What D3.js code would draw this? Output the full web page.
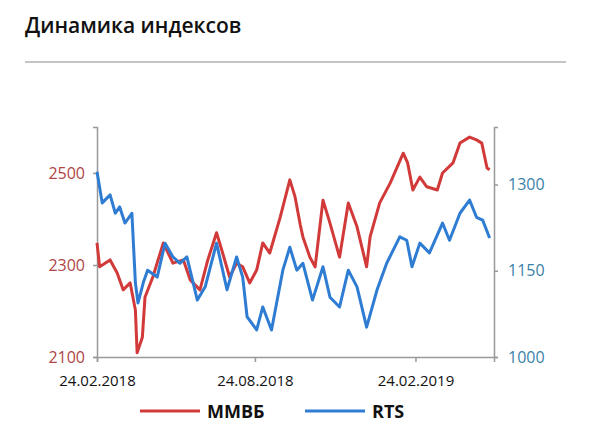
<!DOCTYPE html>
<html><head><meta charset="utf-8">
<script src="https://cdn.jsdelivr.net/npm/d3@7"></script>
<style>body{margin:0;background:#fff}svg{display:block}</style>
</head><body>
<svg id="c" width="600" height="447"></svg>
<script>
const mmvbDates=["2018-02-24","2018-02-27","2018-03-11","2018-03-19","2018-03-26","2018-04-03","2018-04-09","2018-04-11","2018-04-17","2018-04-20","2018-04-29","2018-05-11","2018-05-22","2018-06-03","2018-06-11","2018-06-22","2018-07-01","2018-07-11","2018-07-18","2018-07-26","2018-08-03","2018-08-10","2018-08-18","2018-08-26","2018-09-02","2018-09-10","2018-09-22","2018-10-03","2018-10-09","2018-10-15","2018-10-18","2018-10-26","2018-11-01","2018-11-10","2018-11-18","2018-11-29","2018-12-09","2018-12-19","2018-12-30","2019-01-03","2019-01-14","2019-01-26","2019-02-10","2019-02-15","2019-02-21","2019-03-01","2019-03-09","2019-03-21","2019-03-27","2019-04-08","2019-04-16","2019-04-27","2019-05-05","2019-05-11","2019-05-17","2019-05-20"];
const mmvbValues=[2348,2296,2311,2283,2246,2261,2202,2109,2143,2230,2274,2348,2304,2311,2267,2246,2311,2370,2326,2274,2304,2296,2261,2289,2348,2326,2404,2485,2448,2387,2361,2317,2296,2441,2391,2317,2435,2383,2296,2361,2435,2478,2543,2522,2463,2491,2470,2463,2500,2522,2565,2578,2572,2565,2511,2507];
const rtsDates=["2018-02-24","2018-03-02","2018-03-11","2018-03-17","2018-03-22","2018-03-28","2018-04-05","2018-04-09","2018-04-12","2018-04-18","2018-04-23","2018-05-04","2018-05-13","2018-05-22","2018-05-30","2018-06-07","2018-06-19","2018-06-28","2018-07-11","2018-07-23","2018-08-03","2018-08-10","2018-08-15","2018-08-26","2018-09-02","2018-09-12","2018-09-25","2018-10-03","2018-10-11","2018-10-18","2018-10-29","2018-11-10","2018-11-18","2018-11-29","2018-12-09","2018-12-19","2018-12-30","2019-01-11","2019-01-22","2019-02-06","2019-02-14","2019-02-20","2019-03-01","2019-03-12","2019-03-27","2019-04-04","2019-04-16","2019-04-27","2019-05-05","2019-05-12","2019-05-20"];
const rtsValues=[1322,1268,1282,1250,1261,1233,1250,1129,1094,1129,1151,1139,1198,1174,1163,1174,1099,1122,1198,1117,1174,1139,1070,1047,1087,1047,1151,1191,1151,1163,1099,1157,1104,1087,1151,1122,1052,1117,1163,1209,1203,1157,1198,1181,1233,1203,1250,1273,1243,1238,1207];
const leftTicks=[2100,2300,2500];
const rightTicks=[1000,1150,1300];
const xTickDates=["2018-02-24","2018-08-24","2019-02-24"];
const xTickLabels=["24.02.2018","24.08.2018","24.02.2019"];
const seriesNames=["ММВБ","RTS"];

const p=d3.timeParse("%Y-%m-%d");
const svg=d3.select("#c");
const red="#d23a3a", blue="#2f7cd3";
const font="'Open Sans', 'Liberation Sans', sans-serif";

svg.append("text").attr("x",25).attr("y",33).text("Динамика индексов")
  .attr("font-family",font).attr("font-size",21).attr("font-weight",600).attr("fill","#111");
svg.append("line").attr("x1",25).attr("x2",566).attr("y1",62).attr("y2",62).attr("stroke","#c4c4c4").attr("stroke-width",2);

const x=d3.scaleTime().domain([p("2018-02-24"),p("2019-05-25")]).range([97,494]);
const yL=d3.scaleLinear().domain([2100,2600]).range([357,127]);
const yR=d3.scaleLinear().domain([1000,1400]).range([357,127]);

const gl=svg.append("g").attr("transform","translate(97,0)")
  .call(d3.axisLeft(yL).tickValues(leftTicks).tickFormat(d3.format("d")).tickSize(4).tickPadding(8));
gl.selectAll("text").attr("fill","#b04545").attr("font-size",16).attr("font-family",font);
const gr=svg.append("g").attr("transform","translate(494,0)")
  .call(d3.axisRight(yR).tickValues(rightTicks).tickFormat(d3.format("d")).tickSize(4).tickPadding(10));
gr.selectAll("text").attr("fill","#3a82a8").attr("font-size",16).attr("font-family",font);
const gx=svg.append("g").attr("transform","translate(0,357)")
  .call(d3.axisBottom(x).tickValues(xTickDates.map(p)).tickFormat((d,i)=>xTickLabels[i]).tickSize(5).tickPadding(13));
gx.selectAll("text").attr("fill","#111").attr("font-size",15).attr("font-family",font);
[gl,gr,gx].forEach(g=>{g.selectAll("path,line").attr("stroke","#999").attr("stroke-width",1.5);});

const lineL=d3.line().x((d,i)=>x(p(mmvbDates[i]))).y(d=>yL(d));
const lineR=d3.line().x((d,i)=>x(p(rtsDates[i]))).y(d=>yR(d));
svg.append("path").attr("d",lineL(mmvbValues)).attr("fill","none").attr("stroke",red).attr("stroke-width",3).attr("stroke-linejoin","round");
svg.append("path").attr("d",lineR(rtsValues)).attr("fill","none").attr("stroke",blue).attr("stroke-width",3).attr("stroke-linejoin","round");

const leg=[{c:red,x:140,n:seriesNames[0]},{c:blue,x:305,n:seriesNames[1]}];
leg.forEach(l=>{
  svg.append("line").attr("x1",l.x).attr("x2",l.x+60).attr("y1",411).attr("y2",411).attr("stroke",l.c).attr("stroke-width",3);
  svg.append("text").attr("x",l.x+67).attr("y",418).text(l.n).attr("font-family",font).attr("font-size",18).attr("font-weight",700).attr("fill","#111");
});
</script>
</body></html>
